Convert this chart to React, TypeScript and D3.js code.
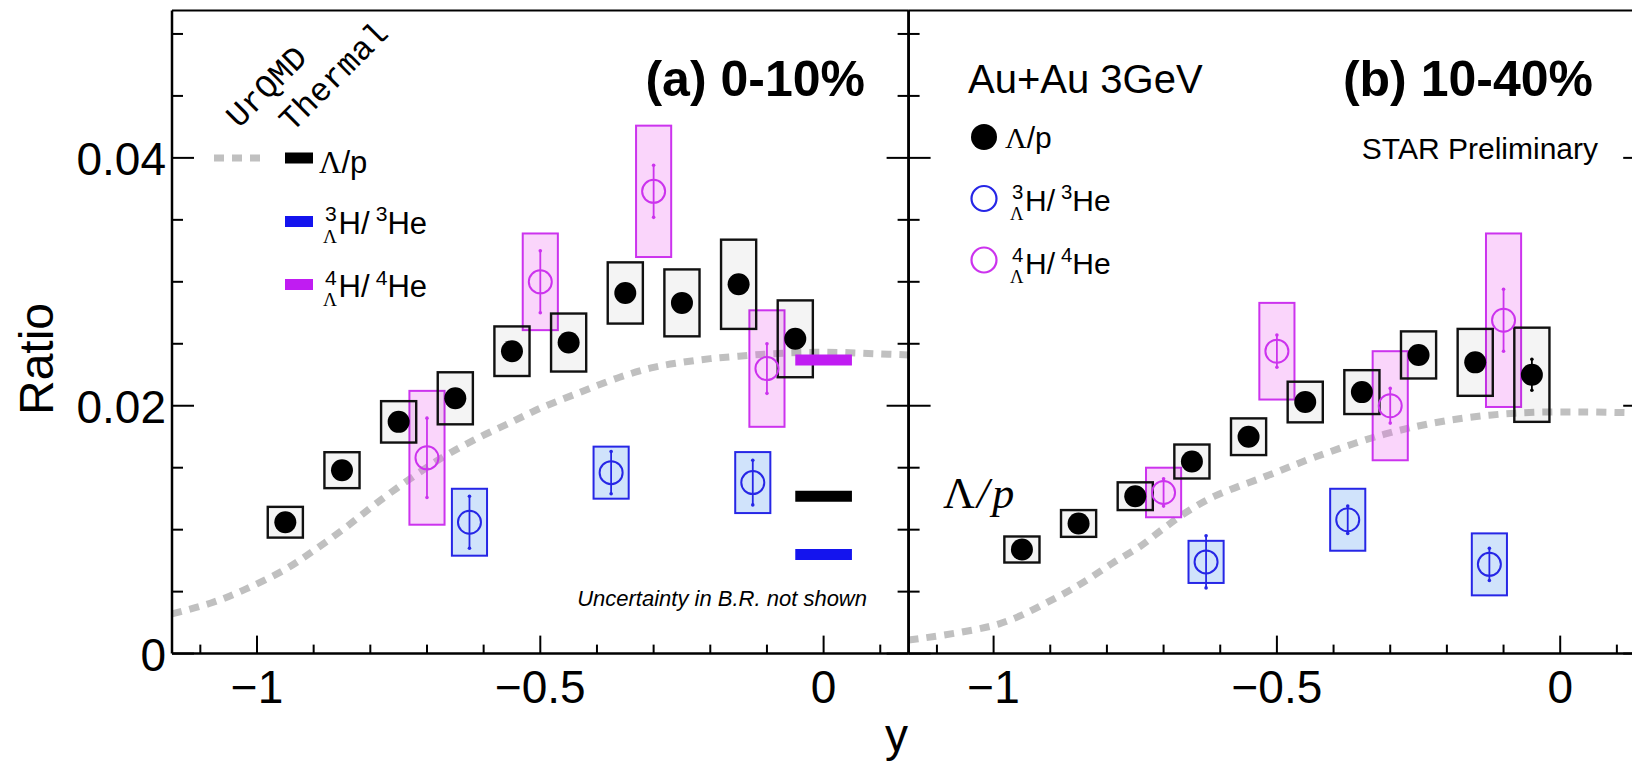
import React from 'react';
import * as d3 from 'd3';

const W = 1632;
const H = 764;

// rapidity bin centres
const lamX = [-0.95, -0.85, -0.75, -0.65, -0.55, -0.45, -0.35, -0.25, -0.15, -0.05];
const h3X = [-0.625, -0.375, -0.125];
const h4X = [-0.7, -0.5, -0.3, -0.1];

// (a) 0-10% central
const lamA = [0.0106, 0.0148, 0.0187, 0.0206, 0.0244, 0.0251, 0.0291, 0.0283, 0.0298, 0.0254];
const lamASys = [0.00124, 0.00145, 0.00167, 0.0021, 0.002, 0.00234, 0.00247, 0.0027, 0.0036, 0.0031];
const lamAStat = [0.0003, 0.0003, 0.0003, 0.0003, 0.0003, 0.0003, 0.0003, 0.0003, 0.0004, 0.0005];
const h3A = [0.0106, 0.0146, 0.0138];
const h3ASys = [0.0027, 0.0021, 0.00246];
const h3AStat = [0.0021, 0.0017, 0.0018];
const h4A = [0.0158, 0.03, 0.0373, 0.023];
const h4ASys = [0.0054, 0.0039, 0.0053, 0.0047];
const h4AStat = [0.0032, 0.0025, 0.0021, 0.002];

// (b) 10-40% central
const lamB = [0.0084, 0.0105, 0.0127, 0.0155, 0.0175, 0.0203, 0.0211, 0.0241, 0.0235, 0.0225];
const lamBSys = [0.00105, 0.00108, 0.00112, 0.00137, 0.00148, 0.00164, 0.00177, 0.0019, 0.0027, 0.0038];
const lamBStat = [0.0003, 0.0003, 0.0003, 0.0003, 0.0003, 0.0003, 0.0004, 0.0004, 0.0005, 0.00125];
const h3B = [0.0074, 0.0108, 0.0072];
const h3BSys = [0.0017, 0.0025, 0.0025];
const h3BStat = [0.0021, 0.0011, 0.0013];
const h4B = [0.013, 0.0244, 0.02, 0.0269];
const h4BSys = [0.002, 0.0039, 0.0044, 0.007];
const h4BStat = [0.0011, 0.0013, 0.0014, 0.0025];

// UrQMD Λ/p curves
const urqmdAX = [-1.15, -1.08, -1.02, -0.95, -0.9, -0.84, -0.79, -0.73, -0.67, -0.61, -0.55, -0.5, -0.44, -0.36, -0.3, -0.25, -0.2, -0.15, -0.09, -0.03, 0.03, 0.09, 0.15];
const urqmdAY = [0.0032, 0.0041, 0.0052, 0.0068, 0.0083, 0.0103, 0.0121, 0.0141, 0.0159, 0.0174, 0.0187, 0.0198, 0.0209, 0.0223, 0.0231, 0.0235, 0.0238, 0.024, 0.0242, 0.0243, 0.0243, 0.0242, 0.0241];
const urqmdBX = [-1.15, -0.99, -0.89, -0.84, -0.79, -0.74, -0.7, -0.66, -0.61, -0.52, -0.43, -0.31, -0.2, -0.08, 0.04, 0.15];
const urqmdBY = [0.0011, 0.0024, 0.0045, 0.0058, 0.0073, 0.0087, 0.0101, 0.0114, 0.0127, 0.0143, 0.0159, 0.0177, 0.0188, 0.0194, 0.0195, 0.0194];

// thermal model values at mid-rapidity (0-10%)
const thermalRange = [-0.05, 0.05];
const thermalLam = 0.0127;
const thermalH3 = 0.008;
const thermalH4 = 0.0237;

// axis ticks
const yMajor = [0, 0.02, 0.04];
const yMinor = [0.005, 0.01, 0.015, 0.025, 0.03, 0.035, 0.045, 0.05];
const xMajor = [-1, -0.5, 0];
const xMinor = [-1.1, -0.9, -0.8, -0.7, -0.6, -0.4, -0.3, -0.2, -0.1, 0.1];
const yTickText = ['0', '0.02', '0.04'];
const xTickText = ['\u22121', '\u22120.5', '0'];

const COL = {
  lamStroke: '#111111',
  lamFill: 'rgba(0,0,0,0.045)',
  h3: '#2626e6',
  h3Fill: 'rgba(60,140,240,0.24)',
  h4: '#cc33ee',
  h4Fill: 'rgba(236,80,240,0.24)',
  thLam: '#000000',
  thH3: '#1414ee',
  thH4: '#c01cf2',
  urqmd: '#c0c0c0',
};

const SANS = "'Liberation Sans', Arial, Helvetica, sans-serif";
const SERIF = "'Liberation Serif', 'Times New Roman', serif";
const MONO = "'Liberation Mono', 'DejaVu Sans Mono', monospace";

const yScale = d3.scaleLinear().domain([0, 0.0519]).range([653.6, 10.4]);
const xA = d3.scaleLinear().domain([-1.15, 0.15]).range([172, 908.6]);
const xB = d3.scaleLinear().domain([-1.15, 0.15]).range([908.6, 1645.2]);
const BOX_HW = 0.031;

type Scale = d3.ScaleLinear<number, number>;

function Frame({ x, id }: { x: Scale; id: string }) {
  const [x0, x1] = x.range();
  const [yb, yt] = yScale.range();
  const items: React.ReactNode[] = [];
  yMajor.forEach((v, i) => {
    const yy = yScale(v);
    items.push(<line key={`yl${i}`} x1={x0} x2={x0 + 22} y1={yy} y2={yy} />);
    items.push(<line key={`yr${i}`} x1={x1 - 22} x2={x1} y1={yy} y2={yy} />);
  });
  yMinor.forEach((v, i) => {
    const yy = yScale(v);
    items.push(<line key={`ml${i}`} x1={x0} x2={x0 + 11} y1={yy} y2={yy} />);
    items.push(<line key={`mr${i}`} x1={x1 - 11} x2={x1} y1={yy} y2={yy} />);
  });
  xMajor.forEach((v, i) => {
    const xx = x(v);
    items.push(<line key={`xM${i}`} x1={xx} x2={xx} y1={yb} y2={yb - 18} />);
  });
  xMinor.forEach((v, i) => {
    const xx = x(v);
    items.push(<line key={`xm${i}`} x1={xx} x2={xx} y1={yb} y2={yb - 9} />);
  });
  return (
    <g id={id} stroke="#000" fill="none">
      <g strokeWidth={2}>{items}</g>
      <line x1={x0} x2={x1} y1={yt} y2={yt} strokeWidth={2} />
      <line x1={x0} x2={x1} y1={yb} y2={yb} strokeWidth={2.5} />
      <line x1={x0} x2={x0} y1={yt} y2={yb} strokeWidth={2.5} />
      <line x1={x1} x2={x1} y1={yt} y2={yb} strokeWidth={2.5} />
      <g stroke="none" fill="#000" fontFamily={SANS} fontSize={46} textAnchor="middle">
        {xMajor.map((v, i) => (
          <text key={i} x={x(v)} y={703}>{xTickText[i]}</text>
        ))}
      </g>
    </g>
  );
}

function Curve({ x, xs, ys, clip }: { x: Scale; xs: number[]; ys: number[]; clip: string }) {
  const line = d3
    .line<number>()
    .x((_, i) => x(xs[i]))
    .y((d) => yScale(d))
    .curve(d3.curveCatmullRom.alpha(0.5));
  return (
    <path
      d={line(ys) || ''}
      fill="none"
      stroke={COL.urqmd}
      strokeWidth={7}
      strokeDasharray="10 8"
      clipPath={`url(#${clip})`}
    />
  );
}

type SeriesProps = {
  x: Scale;
  xs: number[];
  vals: number[];
  sys: number[];
  stat: number[];
  kind: 'lam' | 'h3' | 'h4';
};

function Boxes({ x, xs, vals, sys, kind }: SeriesProps) {
  const stroke = kind === 'lam' ? COL.lamStroke : kind === 'h3' ? COL.h3 : COL.h4;
  const fill = kind === 'lam' ? COL.lamFill : kind === 'h3' ? COL.h3Fill : COL.h4Fill;
  return (
    <g>
      {vals.map((v, i) => {
        const xl = x(xs[i] - BOX_HW);
        const xr = x(xs[i] + BOX_HW);
        const yt = yScale(v + sys[i]);
        const yb = yScale(v - sys[i]);
        return (
          <rect
            key={i}
            x={xl}
            y={yt}
            width={xr - xl}
            height={yb - yt}
            fill={fill}
            stroke={stroke}
            strokeWidth={kind === 'lam' ? 2.4 : 2}
          />
        );
      })}
    </g>
  );
}

function Markers({ x, xs, vals, stat, kind }: SeriesProps) {
  const col = kind === 'lam' ? '#000' : kind === 'h3' ? COL.h3 : COL.h4;
  return (
    <g>
      {vals.map((v, i) => {
        const cx = x(xs[i]);
        const cy = yScale(v);
        const y1 = yScale(v + stat[i]);
        const y2 = yScale(v - stat[i]);
        return (
          <g key={i}>
            <line x1={cx} x2={cx} y1={y1} y2={y2} stroke={col} strokeWidth={1.8} />
            <circle cx={cx} cy={y1} r={1.8} fill={col} />
            <circle cx={cx} cy={y2} r={1.8} fill={col} />
            {kind === 'lam' ? (
              <circle cx={cx} cy={cy} r={11} fill="#000" />
            ) : (
              <circle cx={cx} cy={cy} r={11.5} fill="none" stroke={col} strokeWidth={2} />
            )}
          </g>
        );
      })}
    </g>
  );
}

function Hyper({ x, y, a, fs }: { x: number; y: number; a: string; fs: number }) {
  const sup = fs * 0.68;
  return (
    <g fill="#000">
      <text x={x + 2} y={y - fs * 0.4} fontSize={sup} fontFamily={SANS}>{a}</text>
      <text x={x} y={y + fs * 0.3} fontSize={fs * 0.62} fontFamily={SERIF}>Λ</text>
      <text x={x + fs * 0.5} y={y} fontSize={fs} fontFamily={SANS}>
        H/
        <tspan dx={fs * 0.2} dy={-fs * 0.4} fontSize={sup}>{a}</tspan>
        <tspan dy={fs * 0.4}>He</tspan>
      </text>
    </g>
  );
}

function LamOverP({ x, y, fs }: { x: number; y: number; fs: number }) {
  return (
    <text x={x} y={y} fontSize={fs} fontFamily={SANS}>
      <tspan fontFamily={SERIF}>Λ</tspan>/p
    </text>
  );
}

export default function App() {
  const [yb, yt] = yScale.range();
  const thX0 = xA(thermalRange[0]);
  const thX1 = xA(thermalRange[1]);
  const seriesA: SeriesProps[] = [
    { x: xA, xs: h4X, vals: h4A, sys: h4ASys, stat: h4AStat, kind: 'h4' },
    { x: xA, xs: h3X, vals: h3A, sys: h3ASys, stat: h3AStat, kind: 'h3' },
    { x: xA, xs: lamX, vals: lamA, sys: lamASys, stat: lamAStat, kind: 'lam' },
  ];
  const seriesB: SeriesProps[] = [
    { x: xB, xs: h4X, vals: h4B, sys: h4BSys, stat: h4BStat, kind: 'h4' },
    { x: xB, xs: h3X, vals: h3B, sys: h3BSys, stat: h3BStat, kind: 'h3' },
    { x: xB, xs: lamX, vals: lamB, sys: lamBSys, stat: lamBStat, kind: 'lam' },
  ];
  return (
    <svg
      width={W}
      height={H}
      viewBox={`0 0 ${W} ${H}`}
      style={{ position: 'absolute', left: 0, top: 0, background: '#fff' }}
      fontFamily={SANS}
    >
      <defs>
        <clipPath id="clipA">
          <rect x={xA.range()[0]} y={yt} width={xA.range()[1] - xA.range()[0]} height={yb - yt} />
        </clipPath>
        <clipPath id="clipB">
          <rect x={xB.range()[0]} y={yt} width={xB.range()[1] - xB.range()[0]} height={yb - yt} />
        </clipPath>
      </defs>
      <rect x={0} y={0} width={W} height={H} fill="#fff" />

      {/* panel (a) */}
      <Curve x={xA} xs={urqmdAX} ys={urqmdAY} clip="clipA" />
      {seriesA.map((s, i) => <Boxes key={i} {...s} />)}
      {seriesA.map((s, i) => <Markers key={i} {...s} />)}
      <g strokeWidth={11}>
        <line x1={thX0} x2={thX1} y1={yScale(thermalH4)} y2={yScale(thermalH4)} stroke={COL.thH4} />
        <line x1={thX0} x2={thX1} y1={yScale(thermalLam)} y2={yScale(thermalLam)} stroke={COL.thLam} />
        <line x1={thX0} x2={thX1} y1={yScale(thermalH3)} y2={yScale(thermalH3)} stroke={COL.thH3} />
      </g>

      {/* panel (b) */}
      <Curve x={xB} xs={urqmdBX} ys={urqmdBY} clip="clipB" />
      {seriesB.map((s, i) => <Boxes key={i} {...s} />)}
      {seriesB.map((s, i) => <Markers key={i} {...s} />)}

      <Frame x={xA} id="frameA" />
      <Frame x={xB} id="frameB" />

      {/* y axis labels */}
      <g fontSize={46} textAnchor="end" dominantBaseline="central">
        {yMajor.map((v, i) => (
          <text key={i} x={166} y={yScale(v) + 1}>{yTickText[i]}</text>
        ))}
      </g>
      <text transform="translate(53,359) rotate(-90)" fontSize={48} textAnchor="middle">Ratio</text>
      <text x={908} y={751} fontSize={46} textAnchor="end">y</text>

      {/* model legend, panel (a) */}
      <text transform="translate(239,129) rotate(-45)" fontFamily={MONO} fontSize={33}>UrQMD</text>
      <text transform="translate(292,133) rotate(-45)" fontFamily={MONO} fontSize={33}>Thermal</text>
      <line x1={214} x2={260} y1={158} y2={158} stroke={COL.urqmd} strokeWidth={7} strokeDasharray="10 8" />
      <rect x={285} y={152.5} width={28} height={11} fill={COL.thLam} />
      <rect x={285} y={216} width={28} height={11} fill={COL.thH3} />
      <rect x={285} y={279} width={28} height={11} fill={COL.thH4} />
      <LamOverP x={319} y={173} fs={31} />
      <Hyper x={323} y={233.5} a="3" fs={31} />
      <Hyper x={323} y={297} a="4" fs={31} />

      <text x={865} y={96} fontSize={50} fontWeight="bold" textAnchor="end">(a) 0-10%</text>
      <text x={867} y={606} fontSize={22} fontStyle="italic" textAnchor="end">Uncertainty in B.R. not shown</text>

      {/* data legend, panel (b) */}
      <text x={968} y={93} fontSize={40}>Au+Au 3GeV</text>
      <circle cx={984} cy={137} r={13} fill="#000" />
      <circle cx={984} cy={198.5} r={12.5} fill="none" stroke={COL.h3} strokeWidth={2.2} />
      <circle cx={984} cy={260} r={12.5} fill="none" stroke={COL.h4} strokeWidth={2.2} />
      <LamOverP x={1005} y={148} fs={30} />
      <Hyper x={1010} y={210.5} a="3" fs={30} />
      <Hyper x={1010} y={274} a="4" fs={30} />

      <text x={1593} y={96} fontSize={50} fontWeight="bold" textAnchor="end">(b) 10-40%</text>
      <text x={1598} y={159} fontSize={30} textAnchor="end">STAR Preliminary</text>

      <text x={943} y={508} fontSize={44} fontFamily={SERIF}>
        Λ<tspan dx={2} fontStyle="italic">/</tspan><tspan dx={3} fontStyle="italic">p</tspan>
      </text>
    </svg>
  );
}
